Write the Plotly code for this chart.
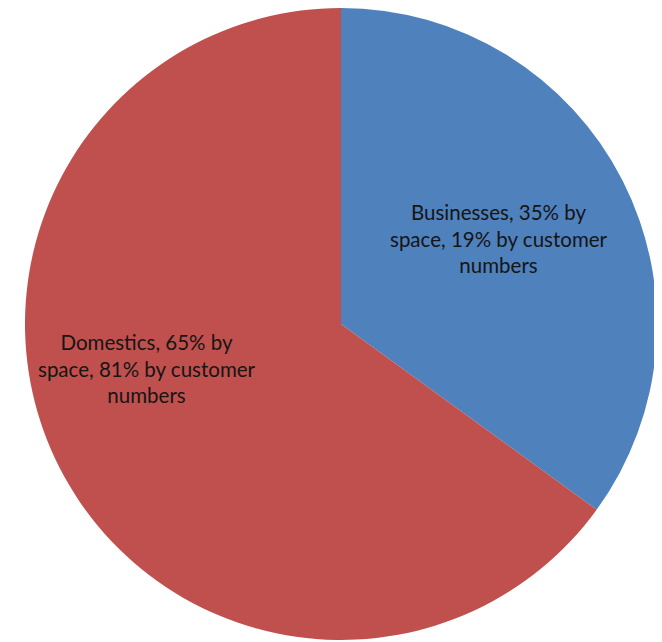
import plotly.graph_objects as go

categories = ["Businesses", "Domestics"]
space_pct = [35, 65]
customer_pct = [19, 81]
colors = ["#4F81BD", "#C0504D"]
label_x = [0.751, 0.2125]
label_y = [0.636, 0.431]

label_text = [
    f"{c}, {s}% by<br>space, {n}% by customer<br>numbers"
    for c, s, n in zip(categories, space_pct, customer_pct)
]

W, H = 654, 634  # page body has an 8px margin inside the 662x642 window

fig = go.Figure(
    go.Pie(
        labels=categories,
        values=space_pct,
        textinfo="none",
        sort=False,
        direction="clockwise",
        rotation=0,
        marker=dict(colors=colors, line=dict(width=0)),
        hoverinfo="label+percent",
        showlegend=False,
        domain=dict(x=[17 / W, 649 / W], y=[2 / H, 1]),
    )
)

for t, x, y in zip(label_text, label_x, label_y):
    fig.add_annotation(
        text=t, x=x, y=y, xref="paper", yref="paper",
        xanchor="center", yanchor="middle",
        showarrow=False, align="center",
        font=dict(family="Lato, Open Sans, sans-serif", size=20.5, color="#151515"),
    )

fig.update_layout(
    width=W,
    height=H,
    margin=dict(l=0, r=0, t=0, b=0),
    paper_bgcolor="white",
    plot_bgcolor="white",
)

fig.write_html("out.html")
